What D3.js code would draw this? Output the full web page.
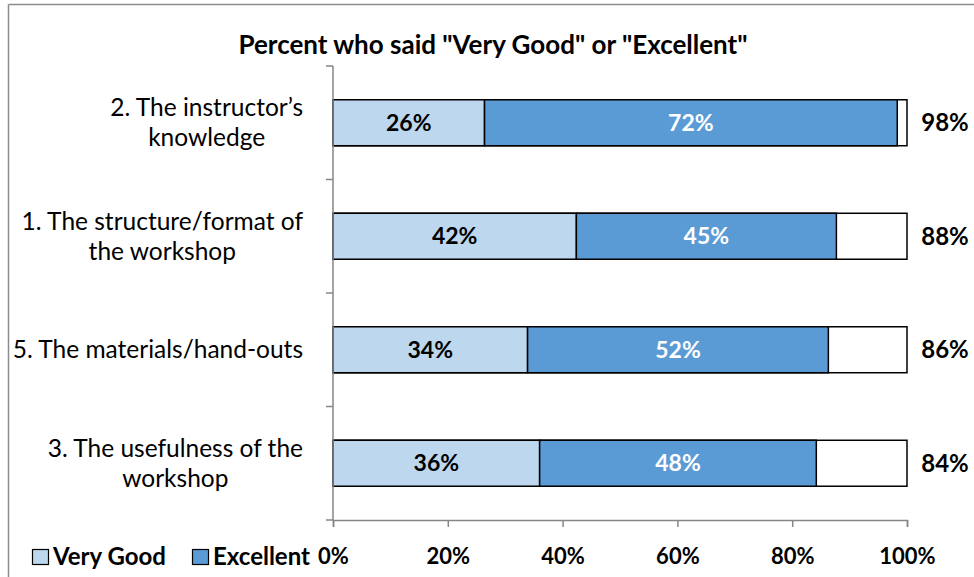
<!DOCTYPE html>
<html>
<head>
<meta charset="utf-8">
<script src="https://cdn.jsdelivr.net/npm/d3@7"></script>
<style>
  body { margin: 0; background: #fff; }
  svg text { font-family: Lato, "Open Sans", sans-serif; }
</style>
</head>
<body>
<div id="chart"></div>
<script>

// categories, top to bottom (each label is split into its lines)
var categories = [
    ["2. The instructor\u2019s", "knowledge"],
    ["1. The structure/format of", "the workshop"],
    ["5. The materials/hand-outs"],
    ["3. The usefulness of the", "workshop"]
];
var veryGood  = [26.4, 42.4, 33.9, 36.0];
var excellent = [71.9, 45.3, 52.4, 48.2];
var xTicks = [0, 20, 40, 60, 80, 100];
var seriesNames = ["Very Good", "Excellent"];
var seriesColors = ["#BDD7EE", "#5B9BD5"];

/*
 * StackChart - draws the horizontal stacked bars
 */
StackChart = function(_parentElement){
    this.parentElement = _parentElement;
    this.initVis();
}

StackChart.prototype.initVis = function(){
    var vis = this;

    vis.width = 974;
    vis.height = 577;

    vis.svg = d3.select("#" + vis.parentElement).append("svg")
        .attr("width", vis.width)
        .attr("height", vis.height);

    // frame lines of the pasted chart
    vis.svg.append("line")
        .attr("x1", 8.5).attr("x2", 974).attr("y1", 4.5).attr("y2", 4.5)
        .attr("stroke", "#8c8c8c").attr("stroke-width", 1.5);
    vis.svg.append("line")
        .attr("x1", 8.5).attr("x2", 8.5).attr("y1", 4.5).attr("y2", 577)
        .attr("stroke", "#8c8c8c").attr("stroke-width", 1.5);

    vis.svg.append("text")
        .attr("x", 493).attr("y", 54)
        .attr("text-anchor", "middle")
        .attr("font-weight", "bold")
        .attr("font-size", 26)
        .text("Percent who said \"Very Good\" or \"Excellent\"");

    vis.x = d3.scaleLinear()
        .domain([0, 100])
        .range([333, 907]);

    vis.y = d3.scaleBand()
        .domain(d3.range(categories.length))
        .range([66, 520])
        .paddingInner(0.595)
        .paddingOuter(0.2975);

    vis.yEdge = d3.scaleLinear()
        .domain([0, categories.length])
        .range([66, 520]);

    vis.wrangleData();
}

StackChart.prototype.wrangleData = function(){
    var vis = this;

    vis.displayData = categories.map(function(c, i){
        return {idx: i, label: c, veryGood: veryGood[i], excellent: excellent[i]};
    });

    vis.stacked = d3.stack().keys(["veryGood", "excellent"])(vis.displayData);

    vis.updateVis();
}

StackChart.prototype.updateVis = function(){
    var vis = this;
    var axisColor = "#868686";

    // white outline box to 100%
    vis.svg.selectAll(".box")
        .data(vis.displayData)
        .enter().append("rect")
        .attr("class", "box")
        .attr("x", vis.x(0))
        .attr("y", function(d){ return vis.y(d.idx); })
        .attr("width", vis.x(100) - vis.x(0))
        .attr("height", vis.y.bandwidth())
        .attr("fill", "#fff")
        .attr("stroke", "#000")
        .attr("stroke-width", 1.5);

    vis.serie = vis.svg.selectAll(".serie")
        .data(vis.stacked)
        .enter().append("g")
        .attr("class", "serie")
        .attr("fill", function(d, i){ return seriesColors[i]; });

    vis.serie.selectAll("rect")
        .data(function(d){ return d; })
        .enter().append("rect")
        .attr("x", function(d){ return vis.x(d[0]); })
        .attr("y", function(d){ return vis.y(d.data.idx); })
        .attr("width", function(d){ return vis.x(d[1]) - vis.x(d[0]); })
        .attr("height", vis.y.bandwidth())
        .attr("stroke", "#000")
        .attr("stroke-width", 1.5);

    vis.serie.selectAll("text")
        .data(function(d){ return d; })
        .enter().append("text")
        .attr("x", function(d){ return vis.x((d[0] + d[1]) / 2); })
        .attr("y", function(d){ return vis.y(d.data.idx) + vis.y.bandwidth() / 2; })
        .attr("dy", "0.35em")
        .attr("text-anchor", "middle")
        .attr("font-weight", "bold")
        .attr("font-size", 23)
        .attr("fill", function(d){ return d[0] > 0 ? "#fff" : "#000"; })
        .text(function(d){ return Math.round(d[1] - d[0]) + "%"; });

    // totals on the right
    vis.svg.selectAll(".total")
        .data(vis.displayData)
        .enter().append("text")
        .attr("class", "total")
        .attr("x", 945)
        .attr("y", function(d){ return vis.y(d.idx) + vis.y.bandwidth() / 2; })
        .attr("dy", "0.35em")
        .attr("text-anchor", "middle")
        .attr("font-weight", "bold")
        .attr("font-size", 24)
        .text(function(d){ return Math.round(d.veryGood + d.excellent) + "%"; });

    // category labels: block right aligned, lines centred inside the block
    var lab = vis.svg.selectAll(".cat")
        .data(vis.displayData)
        .enter().append("text")
        .attr("class", "cat")
        .attr("font-size", 24.5)
        .attr("text-anchor", "middle");
    lab.selectAll("tspan")
        .data(function(d){
            var n = d.label.length;
            return d.label.map(function(t, j){ return {t: t, dy: (j - (n - 1) / 2) * 30}; });
        })
        .enter().append("tspan")
        .attr("x", 0)
        .attr("y", function(d){ return d.dy; })
        .attr("dy", "0.35em")
        .text(function(d){ return d.t; });
    lab.attr("transform", function(d){
        var w = d3.max(d3.select(this).selectAll("tspan").nodes(), function(n){
            return n.getComputedTextLength();
        });
        return "translate(" + (303 - w / 2) + "," + (vis.y(d.idx) + vis.y.bandwidth() / 2) + ")";
    });

    // y axis with category boundary ticks
    vis.svg.append("line")
        .attr("x1", vis.x(0)).attr("x2", vis.x(0))
        .attr("y1", vis.yEdge(0)).attr("y2", vis.yEdge(categories.length))
        .attr("stroke", axisColor).attr("stroke-width", 1.5);
    vis.svg.selectAll(".ytick")
        .data(d3.range(categories.length + 1))
        .enter().append("line")
        .attr("class", "ytick")
        .attr("x1", vis.x(0) - 7).attr("x2", vis.x(0))
        .attr("y1", function(d){ return vis.yEdge(d); })
        .attr("y2", function(d){ return vis.yEdge(d); })
        .attr("stroke", axisColor).attr("stroke-width", 1.5);

    // x axis
    vis.xAxis = d3.axisBottom(vis.x)
        .tickValues(xTicks)
        .tickSize(7)
        .tickFormat(function(d){ return d + "%"; });

    vis.gx = vis.svg.append("g")
        .attr("transform", "translate(0," + vis.yEdge(categories.length) + ")")
        .call(vis.xAxis);
    vis.gx.select(".domain").attr("stroke", axisColor).attr("stroke-width", 1.5);
    vis.gx.selectAll(".tick line").attr("stroke", axisColor).attr("stroke-width", 1.5);
    vis.gx.selectAll(".tick text")
        .attr("y", 36)
        .attr("dy", "0.35em")
        .attr("fill", "#000")
        .attr("font-family", "Lato, sans-serif")
        .attr("font-weight", "bold")
        .attr("font-size", 22);

    // legend
    var legX = [32, 192];
    var leg = vis.svg.selectAll(".leg")
        .data(seriesNames)
        .enter().append("g")
        .attr("class", "leg")
        .attr("transform", function(d, i){ return "translate(" + legX[i] + ",557)"; });
    leg.append("rect")
        .attr("x", 0.5).attr("y", -7.5)
        .attr("width", 16).attr("height", 15)
        .attr("fill", function(d, i){ return seriesColors[i]; })
        .attr("stroke", "#000").attr("stroke-width", 1.2);
    leg.append("text")
        .attr("x", 21)
        .attr("dy", "0.35em")
        .attr("font-weight", "bold")
        .attr("font-size", 24)
        .text(function(d){ return d; });
}

new StackChart("chart");
</script>
</body>
</html>
